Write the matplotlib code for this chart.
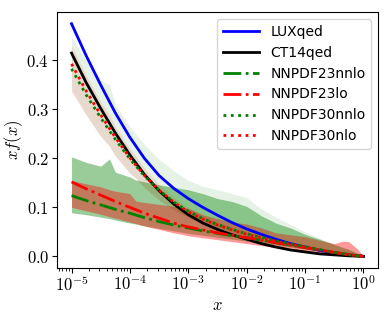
import numpy as np
import matplotlib
matplotlib.use('Agg')
import matplotlib.pyplot as plt
from matplotlib.ticker import FuncFormatter

plt.rcParams['mathtext.fontset'] = 'cm'

# central curves, sampled every quarter decade in x
line_logx = [-5, -4.75, -4.5, -4.25, -4, -3.75, -3.5, -3.25, -3, -2.75, -2.5,
             -2.25, -2, -1.75, -1.5, -1.25, -1, -0.75, -0.5, -0.25, 0]

lux = [0.475, 0.41, 0.35, 0.293, 0.243, 0.2, 0.165, 0.139, 0.118, 0.1, 0.084,
       0.069, 0.056, 0.045, 0.035, 0.026, 0.019, 0.012, 0.007, 0.003, 0.0]
ct14 = [0.415, 0.355, 0.302, 0.252, 0.207, 0.167, 0.134, 0.107, 0.085, 0.068, 0.055,
        0.044, 0.035, 0.026, 0.019, 0.013, 0.009, 0.005, 0.003, 0.001, 0.0]
nn23nnlo = [0.124, 0.114, 0.105, 0.096, 0.088, 0.079, 0.071, 0.064, 0.058, 0.052, 0.047,
            0.042, 0.038, 0.033, 0.028, 0.023, 0.018, 0.013, 0.008, 0.004, 0.0]
nn23lo = [0.152, 0.138, 0.125, 0.112, 0.100, 0.088, 0.078, 0.068, 0.060, 0.054, 0.048,
          0.043, 0.038, 0.033, 0.028, 0.023, 0.018, 0.013, 0.008, 0.004, 0.0]
nn30nnlo = [0.383, 0.33, 0.283, 0.239, 0.199, 0.164, 0.135, 0.111, 0.092, 0.077, 0.065,
            0.055, 0.046, 0.039, 0.032, 0.026, 0.02, 0.014, 0.008, 0.003, 0.0]
nn30nlo = [0.393, 0.338, 0.289, 0.243, 0.201, 0.165, 0.135, 0.111, 0.091, 0.076, 0.064,
           0.054, 0.045, 0.038, 0.031, 0.025, 0.019, 0.013, 0.008, 0.003, 0.0]

# uncertainty bands
band_logx = [-5, -4.75, -4.5, -4.35, -4.25, -4, -3.9, -3.75, -3.5, -3.25, -3, -2.75, -2.5,
             -2.25, -2, -1.75, -1.5, -1.25, -1, -0.75, -0.5, -0.35, -0.25, -0.1, 0]

nn23nnlo_hi = [0.203, 0.192, 0.184, 0.199, 0.172, 0.162, 0.156, 0.152, 0.146, 0.141, 0.136,
               0.128, 0.118, 0.112, 0.102, 0.083, 0.068, 0.058, 0.045, 0.035, 0.024,
               0.018, 0.014, 0.006, 0.0]
nn23nnlo_lo = [0.089, 0.085, 0.080, 0.077, 0.074, 0.068, 0.066, 0.062, 0.057, 0.052, 0.047,
               0.043, 0.039, 0.035, 0.031, 0.027, 0.023, 0.019, 0.015, 0.011, 0.007,
               0.005, 0.004, 0.002, 0.0]
nn23lo_hi = [0.155, 0.148, 0.142, 0.136, 0.133, 0.128, 0.113, 0.110, 0.106, 0.102, 0.098,
             0.085, 0.077, 0.070, 0.066, 0.058, 0.048, 0.044, 0.040, 0.033, 0.026,
             0.031, 0.030, 0.015, 0.0]
nn23lo_lo = [0.100, 0.093, 0.086, 0.081, 0.078, 0.070, 0.067, 0.062, 0.055, 0.048, 0.042,
             0.038, 0.034, 0.030, 0.026, 0.022, 0.018, 0.014, 0.011, 0.007, 0.004,
             0.003, 0.002, 0.001, 0.0]
nn30nnlo_hi = [0.45, 0.40, 0.36, 0.35, 0.31, 0.265, 0.25, 0.228, 0.198, 0.175, 0.155,
               0.143, 0.136, 0.128, 0.12, 0.097, 0.08, 0.065, 0.05, 0.037, 0.025,
               0.019, 0.015, 0.007, 0.0]
nn30nnlo_lo = [0.34, 0.29, 0.245, 0.225, 0.205, 0.17, 0.16, 0.14, 0.115, 0.095, 0.08,
               0.067, 0.056, 0.047, 0.039, 0.032, 0.026, 0.02, 0.015, 0.01, 0.006,
               0.004, 0.003, 0.001, 0.0]
nn30nlo_hi = [0.43, 0.37, 0.315, 0.29, 0.265, 0.22, 0.205, 0.18, 0.147, 0.12, 0.10,
              0.083, 0.07, 0.06, 0.05, 0.042, 0.035, 0.028, 0.022, 0.015, 0.009,
              0.006, 0.004, 0.002, 0.0]
nn30nlo_lo = [0.335, 0.288, 0.245, 0.225, 0.205, 0.17, 0.16, 0.14, 0.115, 0.095, 0.08,
              0.067, 0.056, 0.047, 0.039, 0.032, 0.026, 0.02, 0.015, 0.01, 0.006,
              0.004, 0.003, 0.001, 0.0]

x = 10.0 ** np.array(line_logx)
xb = 10.0 ** np.array(band_logx)

fig, ax = plt.subplots(figsize=(3.9, 3.19), dpi=100)
fig.subplots_adjust(left=0.146, right=0.969, bottom=0.160, top=0.962)

ax.fill_between(xb, nn23nnlo_lo, nn23nnlo_hi, color='green', alpha=0.4, lw=0)
ax.fill_between(xb, nn23lo_lo, nn23lo_hi, color='red', alpha=0.4, lw=0)
ax.fill_between(xb, nn30nnlo_lo, nn30nnlo_hi, color='green', alpha=0.1, lw=0)
ax.fill_between(xb, nn30nlo_lo, nn30nlo_hi, color='red', alpha=0.1, lw=0)

ax.plot(x, lux, color='blue', lw=2, label='LUXqed')
ax.plot(x, ct14, color='black', lw=2, label='CT14qed')
ax.plot(x, nn23nnlo, color='green', lw=2, ls='-.', label='NNPDF23nnlo')
ax.plot(x, nn23lo, color='red', lw=2, ls='-.', label='NNPDF23lo')
ax.plot(x, nn30nnlo, color='green', lw=2, ls=':', label='NNPDF30nnlo')
ax.plot(x, nn30nlo, color='red', lw=2, ls=':', label='NNPDF30nlo')

ax.set_xscale('log')
ax.xaxis.set_major_formatter(FuncFormatter(lambda v, p: r'$10^{%d}$' % round(np.log10(v))))
ax.yaxis.set_major_formatter(FuncFormatter(lambda v, p: r'$%.1f$' % v))
ax.set_yticks([0.0, 0.1, 0.2, 0.3, 0.4])
ax.tick_params(labelsize=12, pad=2)
ax.set_xlabel(r'$x$', fontsize=12, labelpad=1)
ax.set_ylabel(r'$xf(x)$', fontsize=12, labelpad=1)
ax.legend(loc='upper right', fontsize=10, handlelength=2.6)

fig.savefig('out.png', dpi=100)
